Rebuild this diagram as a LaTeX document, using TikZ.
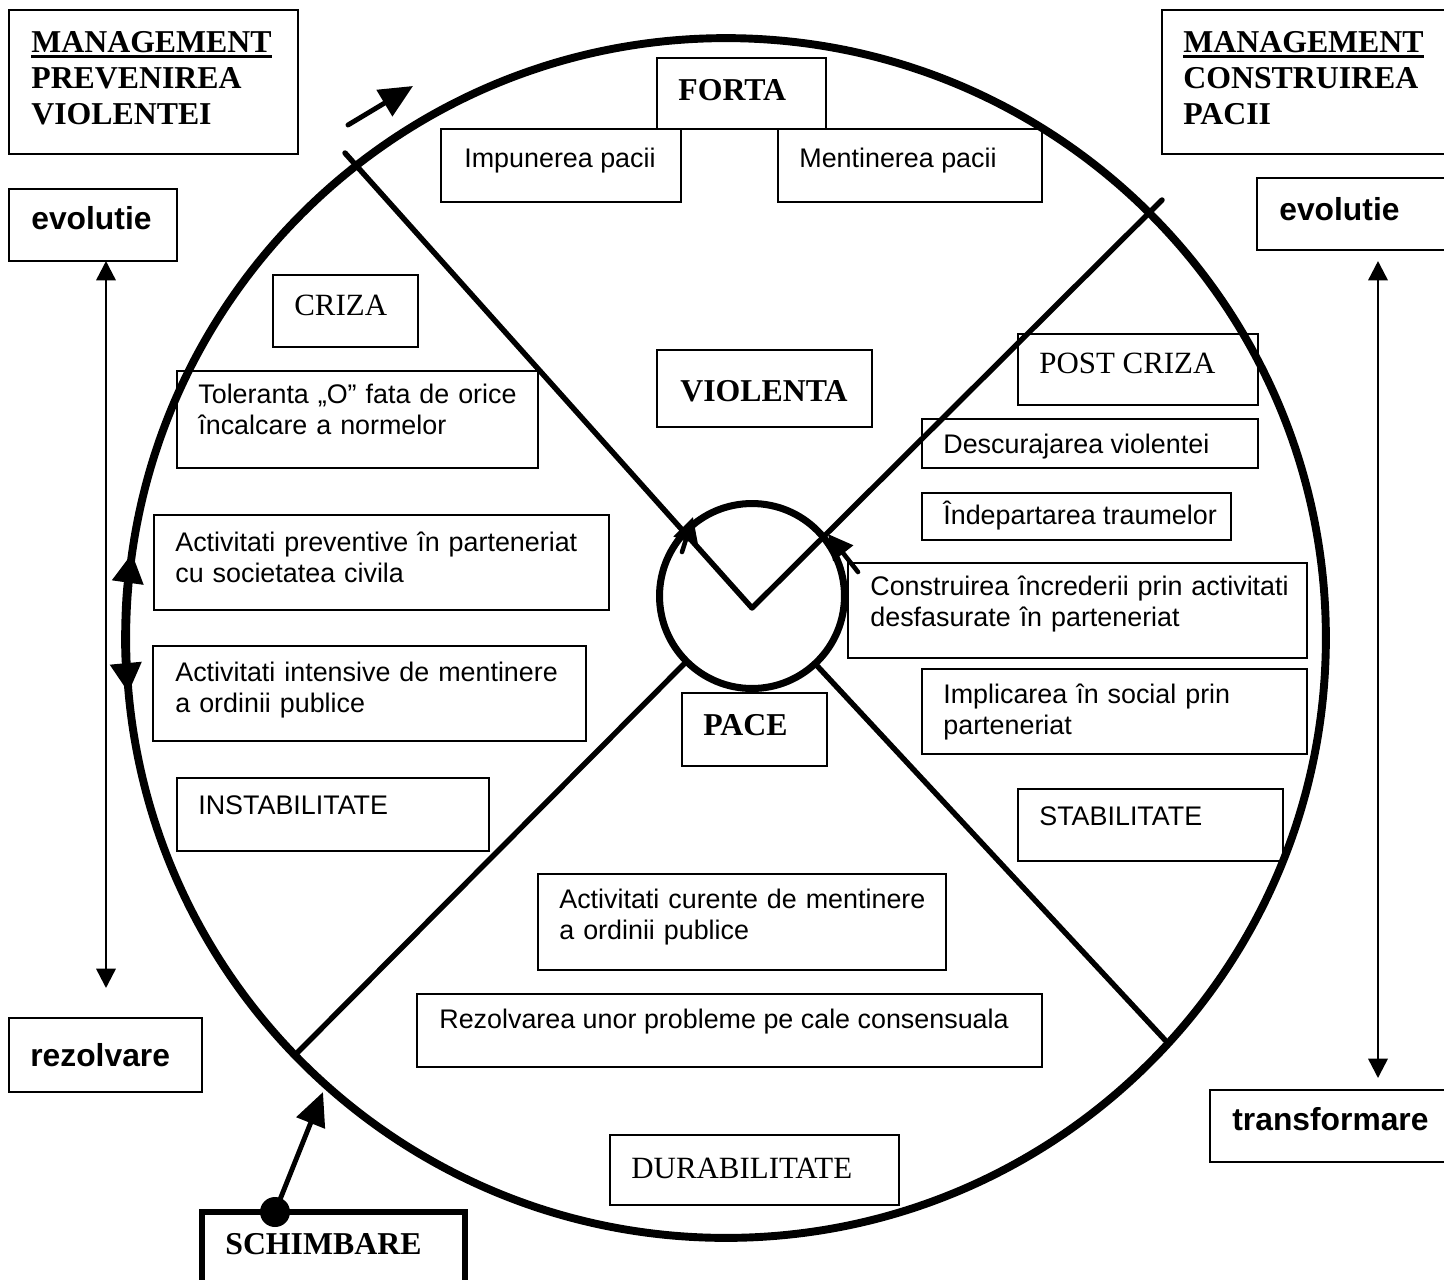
\documentclass[tikz,border=0pt]{standalone}
\usepackage{fontspec}
\setmainfont{Liberation Serif}
\setsansfont{Liberation Sans}
\usetikzlibrary{arrows.meta,fit}

% thick underline for the MANAGEMENT headings
\newcommand\thickunder[1]{\setbox0=\hbox{#1}\rlap{\rule[-3.2pt]{\wd0}{1.3pt}}\box0}

\begin{document}
\begin{tikzpicture}[x=0.02cm, y=-0.02cm,
  frame/.style={draw, line width=1.1pt, inner sep=0pt, outer sep=0pt},
  heavyframe/.style={draw, line width=2.9pt, inner sep=0pt, outer sep=0pt},
  lbl/.style={anchor=base west, inner sep=0pt, align=left},
  sanslbl/.style={lbl, font=\fontsize{15.3}{18.1}\selectfont\sffamily},
  sansbold/.style={lbl, font=\fontsize{18.1}{21}\selectfont\sffamily\bfseries},
  seriflbl/.style={lbl, font=\fontsize{17.6}{21}\selectfont\rmfamily},
  serifbold/.style={lbl, font=\fontsize{18.1}{20.7}\selectfont\rmfamily\bfseries},
  spoke/.style={line width=3.1pt, line cap=round, line join=round},
  rim/.style={line width=4.5pt},
  thinarrow/.style={line width=1.4pt, {Triangle[length=11pt,width=11pt]}-{Triangle[length=11pt,width=11pt]}},
  boldarrow/.style={line width=2.8pt, line cap=round, -{Triangle[length=19pt,width=17pt]}},
  rimarrow/.style={line width=4.5pt, {Triangle[length=17pt,width=17pt]}-{Triangle[length=17pt,width=17pt]}},
  hubarrow/.style={line width=2.6pt, line cap=round, -{Triangle[length=14pt,width=14pt]}},
]
\useasboundingbox (0,0) rectangle (1444,1279);
\clip (0,0) rectangle (1444,1279);

% ---- wheel and hub ----
\node[circle, draw, rim, minimum size=24cm, inner sep=0pt] (wheel) at (726,638) {};
\node[circle, draw, line width=4pt, minimum size=3.7cm, inner sep=0pt] (hub) at (752,596) {};

% spokes
\coordinate (tl) at (345,153);
\coordinate (vtx) at (752,608);
\coordinate (tr) at (1162,200);
\coordinate (bl) at (298,1052);
\coordinate (br) at (1165,1040);
\draw[spoke] (tl) -- (vtx) -- (tr);
\draw[spoke] (hub.225) -- (bl);
\draw[spoke] (hub.313) -- (br);

% arrows on the hub
\coordinate (hlA) at (682,552);
\coordinate (hlB) at (693,517);
\coordinate (hrA) at (858,572);
\coordinate (hrB) at (828,534);
\draw[hubarrow] (hlA) -- (hlB);
\draw[hubarrow] (hrA) -- (hrB);

% double arrow on the left rim
\draw[rimarrow] (132,553) arc[start angle=188.14, end angle=174.74, radius=600];

% direction arrow at the top left of the wheel
\coordinate (dirA) at (348,125);
\coordinate (dirB) at (413,86);
\draw[boldarrow] (dirA) -- (dirB);

% ---- left column ----
\node[frame, fit={(9,10) (298,154)}] (mgmtL) {};
\node[serifbold, text width=6cm] (mgmtLt) at (31,52) {\thickunder{MANAGEMENT}\\PREVENIREA\\VIOLENTEI};
\node[frame, fit={(9,189) (177,261)}] (evoL) {};
\node[sansbold] (evoLt) at (31,229) {evolutie};
\node[frame, fit={(9,1018) (202,1092)}] (rezL) {};
\node[sansbold] (rezLt) at (30,1066) {rezolvare};
\coordinate (rezLtip) at (106,988);
\draw[thinarrow] (evoL.south -| 106,0) -- (rezLtip);

% ---- right column ----
\node[frame, fit={(1162,10) (1470,154)}] (mgmtR) {};
\node[serifbold, text width=6cm] (mgmtRt) at (1183,52) {\thickunder{MANAGEMENT}\\CONSTRUIREA\\PACII};
\node[frame, fit={(1257,178) (1470,250)}] (evoR) {};
\node[sansbold] (evoRt) at (1279,220) {evolutie};
\node[frame, fit={(1210,1090) (1470,1162)}] (trfR) {};
\node[sansbold] (trfRt) at (1232,1130) {transformare};
\coordinate (evoRtip) at (1378,261);
\coordinate (trfRtip) at (1378,1078);
\draw[thinarrow] (evoRtip) -- (trfRtip);

% ---- top sector ----
\node[frame, fit={(657,58) (826,129)}] (forta) {};
\node[serifbold] (fortat) at (678,100) {FORTA};
\node[frame, fit={(441,129) (681,202)}] (impun) {};
\node[sanslbl] (impunt) at (464,167) {Impunerea pacii};
\node[frame, fit={(778,129) (1042,202)}] (mentin) {};
\node[sanslbl] (mentint) at (799,167) {Mentinerea pacii};
\node[frame, fit={(657,350) (872,427)}] (viol) {};
\node[serifbold] (violt) at (680,401) {VIOLENTA};

% ---- left sector ----
\node[frame, fit={(273,275) (418,347)}] (criza) {};
\node[seriflbl] (crizat) at (294,315) {CRIZA};
\node[frame, fit={(177,371) (538,468)}] (toler) {};
\node[sanslbl, text width=7cm] (tolert) at (198,403) {Toleranta „O” fata de orice\\încalcare a normelor};
\node[frame, fit={(154,515) (609,610)}] (prev) {};
\node[sanslbl, text width=9cm] (prevt) at (175,551) {Activitati preventive în parteneriat\\cu societatea civila};
\node[frame, fit={(153,646) (586,741)}] (intens) {};
\node[sanslbl, text width=8cm] (intenst) at (175,681) {\makebox[7.8cm][s]{Activitati intensive de mentinere}\\a ordinii publice};
\node[frame, fit={(177,778) (489,851)}] (instab) {};
\node[sanslbl] (instabt) at (198,814) {INSTABILITATE};

% ---- right sector ----
\node[frame, fit={(1018,334) (1258,405)}] (postcr) {};
\node[seriflbl] (postcrt) at (1039,373) {POST CRIZA};
\node[frame, fit={(922,419) (1258,468)}] (descur) {};
\node[sanslbl] (descurt) at (943,453) {Descurajarea violentei};
\node[frame, fit={(922,493) (1231,540)}] (indep) {};
\node[sanslbl] (indept) at (943,524) {Îndepartarea traumelor};
\node[frame, fit={(848,563) (1307,658)}] (constr) {};
\node[sanslbl, text width=9cm] (constrt) at (870,595) {Construirea încrederii prin activitati\\desfasurate în parteneriat};
\node[frame, fit={(922,669) (1307,754)}] (implic) {};
\node[sanslbl, text width=7cm] (implict) at (943,703) {Implicarea în social prin\\parteneriat};
\node[frame, fit={(1018,789) (1283,861)}] (stabil) {};
\node[sanslbl] (stabilt) at (1039,825) {STABILITATE};

% ---- centre and bottom sector ----
\node[frame, fit={(682,693) (827,766)}] (pace) {};
\node[serifbold] (pacet) at (703,735) {PACE};
\node[frame, fit={(538,874) (946,970)}] (curente) {};
\node[sanslbl, text width=8cm] (curentet) at (559,908) {Activitati curente de mentinere\\a ordinii publice};
\node[frame, fit={(417,994) (1042,1067)}] (rezolv) {};
\node[sanslbl] (rezolvt) at (439,1028) {Rezolvarea unor probleme pe cale consensuala};
\node[frame, fit={(610,1135) (899,1205)}] (durab) {};
\node[seriflbl] (durabt) at (631,1178) {DURABILITATE};

% ---- change box and its arrow ----
\node[heavyframe, fit={(202,1212) (465,1310)}] (schimb) {};
\node[serifbold] (schimbt) at (225,1254) {SCHIMBARE};
\node[circle, fill, minimum size=0.6cm, inner sep=0pt] (dot) at (275,1212) {};
\coordinate (chgtip) at (323,1092);
\draw[boldarrow] (dot.center) -- (chgtip);
\end{tikzpicture}
\end{document}
